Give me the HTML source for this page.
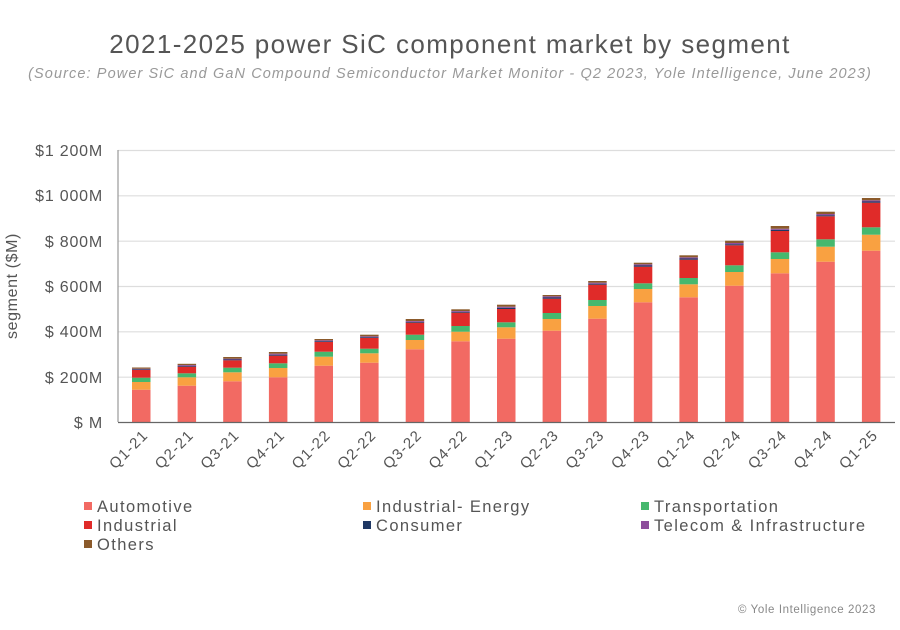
<!DOCTYPE html><html><head><meta charset="utf-8"><style>body{margin:0;background:#fff}svg{display:block;font-family:"Liberation Sans",sans-serif}</style></head><body>
<svg width="900" height="630" viewBox="0 0 900 630" xmlns="http://www.w3.org/2000/svg">
<text x="450" y="53" text-anchor="middle" font-size="26" letter-spacing="1.4" fill="#555">2021-2025 power SiC component market by segment</text>
<text x="450" y="78" text-anchor="middle" font-size="14.5" letter-spacing="1.1" font-style="italic" fill="#999">(Source: Power SiC and GaN Compound Semiconductor Market Monitor - Q2 2023, Yole Intelligence, June 2023)</text>
<g stroke="#ddd" stroke-width="1.2"><line x1="118" x2="895" y1="150.5" y2="150.5"/><line x1="118" x2="895" y1="195.8" y2="195.8"/><line x1="118" x2="895" y1="241.2" y2="241.2"/><line x1="118" x2="895" y1="286.5" y2="286.5"/><line x1="118" x2="895" y1="331.8" y2="331.8"/><line x1="118" x2="895" y1="377.2" y2="377.2"/></g>
<line x1="118" x2="118" y1="150" y2="422" stroke="#999" stroke-width="1.2"/>
<g font-size="16" letter-spacing="0.8" fill="#555" text-anchor="end"><text x="103" y="156">$1 200M</text><text x="103" y="201">$1 000M</text><text x="103" y="247">$ 800M</text><text x="103" y="292">$ 600M</text><text x="103" y="337">$ 400M</text><text x="103" y="383">$ 200M</text><text x="103" y="428">$ M</text></g>
<text transform="translate(17,286) rotate(-90)" text-anchor="middle" font-size="16" letter-spacing="0.6" fill="#555">segment ($M)</text>
<g id="bars">
<g transform="translate(132,0)"><rect y="389.7" height="32.3" width="18.5" fill="#f26a63"/><rect y="382" height="7.7" width="18.5" fill="#f9a141"/><rect y="377.7" height="4.3" width="18.5" fill="#46b86e"/><rect y="370" height="7.7" width="18.5" fill="#e02b29"/><rect y="369.3" height="0.7" width="18.5" fill="#1f3864"/><rect y="368.7" height="0.6" width="18.5" fill="#8e4e9c"/><rect y="367.5" height="1.2" width="18.5" fill="#8b5a2b"/></g>
<g transform="translate(177.6,0)"><rect y="385.7" height="36.3" width="18.5" fill="#f26a63"/><rect y="377.3" height="8.4" width="18.5" fill="#f9a141"/><rect y="373.3" height="4" width="18.5" fill="#46b86e"/><rect y="366.7" height="6.6" width="18.5" fill="#e02b29"/><rect y="365.8" height="0.9" width="18.5" fill="#1f3864"/><rect y="365" height="0.8" width="18.5" fill="#8e4e9c"/><rect y="363.8" height="1.2" width="18.5" fill="#8b5a2b"/></g>
<g transform="translate(223.2,0)"><rect y="381.3" height="40.7" width="18.5" fill="#f26a63"/><rect y="372.3" height="9" width="18.5" fill="#f9a141"/><rect y="367.7" height="4.6" width="18.5" fill="#46b86e"/><rect y="360.3" height="7.4" width="18.5" fill="#e02b29"/><rect y="359.5" height="0.8" width="18.5" fill="#1f3864"/><rect y="358.7" height="0.8" width="18.5" fill="#8e4e9c"/><rect y="357" height="1.7" width="18.5" fill="#8b5a2b"/></g>
<g transform="translate(268.9,0)"><rect y="377.3" height="44.7" width="18.5" fill="#f26a63"/><rect y="368" height="9.3" width="18.5" fill="#f9a141"/><rect y="363.3" height="4.7" width="18.5" fill="#46b86e"/><rect y="355.7" height="7.6" width="18.5" fill="#e02b29"/><rect y="354.7" height="1" width="18.5" fill="#1f3864"/><rect y="353.7" height="1" width="18.5" fill="#8e4e9c"/><rect y="352" height="1.7" width="18.5" fill="#8b5a2b"/></g>
<g transform="translate(314.5,0)"><rect y="365.7" height="56.3" width="18.5" fill="#f26a63"/><rect y="356.7" height="9" width="18.5" fill="#f9a141"/><rect y="351.7" height="5" width="18.5" fill="#46b86e"/><rect y="342" height="9.7" width="18.5" fill="#e02b29"/><rect y="341.2" height="0.8" width="18.5" fill="#1f3864"/><rect y="340.3" height="0.9" width="18.5" fill="#8e4e9c"/><rect y="339" height="1.3" width="18.5" fill="#8b5a2b"/></g>
<g transform="translate(360.1,0)"><rect y="362.7" height="59.3" width="18.5" fill="#f26a63"/><rect y="353.3" height="9.4" width="18.5" fill="#f9a141"/><rect y="348.7" height="4.6" width="18.5" fill="#46b86e"/><rect y="338" height="10.7" width="18.5" fill="#e02b29"/><rect y="337.2" height="0.8" width="18.5" fill="#1f3864"/><rect y="336.3" height="0.9" width="18.5" fill="#8e4e9c"/><rect y="334.7" height="1.6" width="18.5" fill="#8b5a2b"/></g>
<g transform="translate(405.7,0)"><rect y="349.3" height="72.7" width="18.5" fill="#f26a63"/><rect y="340" height="9.3" width="18.5" fill="#f9a141"/><rect y="334.7" height="5.3" width="18.5" fill="#46b86e"/><rect y="322.7" height="12" width="18.5" fill="#e02b29"/><rect y="321.8" height="0.9" width="18.5" fill="#1f3864"/><rect y="321" height="0.8" width="18.5" fill="#8e4e9c"/><rect y="319" height="2" width="18.5" fill="#8b5a2b"/></g>
<g transform="translate(451.3,0)"><rect y="341.3" height="80.7" width="18.5" fill="#f26a63"/><rect y="331.7" height="9.6" width="18.5" fill="#f9a141"/><rect y="326" height="5.7" width="18.5" fill="#46b86e"/><rect y="312.7" height="13.3" width="18.5" fill="#e02b29"/><rect y="311.8" height="0.9" width="18.5" fill="#1f3864"/><rect y="311" height="0.8" width="18.5" fill="#8e4e9c"/><rect y="309.3" height="1.7" width="18.5" fill="#8b5a2b"/></g>
<g transform="translate(497,0)"><rect y="338.7" height="83.3" width="18.5" fill="#f26a63"/><rect y="327.3" height="11.4" width="18.5" fill="#f9a141"/><rect y="322.3" height="5" width="18.5" fill="#46b86e"/><rect y="309" height="13.3" width="18.5" fill="#e02b29"/><rect y="307.8" height="1.2" width="18.5" fill="#1f3864"/><rect y="306.7" height="1.1" width="18.5" fill="#8e4e9c"/><rect y="304.7" height="2" width="18.5" fill="#8b5a2b"/></g>
<g transform="translate(542.6,0)"><rect y="330.7" height="91.3" width="18.5" fill="#f26a63"/><rect y="319" height="11.7" width="18.5" fill="#f9a141"/><rect y="313" height="6" width="18.5" fill="#46b86e"/><rect y="298.7" height="14.3" width="18.5" fill="#e02b29"/><rect y="297.5" height="1.2" width="18.5" fill="#1f3864"/><rect y="296.3" height="1.2" width="18.5" fill="#8e4e9c"/><rect y="295" height="1.3" width="18.5" fill="#8b5a2b"/></g>
<g transform="translate(588.2,0)"><rect y="318.7" height="103.3" width="18.5" fill="#f26a63"/><rect y="306" height="12.7" width="18.5" fill="#f9a141"/><rect y="300" height="6" width="18.5" fill="#46b86e"/><rect y="284.7" height="15.3" width="18.5" fill="#e02b29"/><rect y="283.7" height="1" width="18.5" fill="#1f3864"/><rect y="282.7" height="1" width="18.5" fill="#8e4e9c"/><rect y="281" height="1.7" width="18.5" fill="#8b5a2b"/></g>
<g transform="translate(633.8,0)"><rect y="302.3" height="119.7" width="18.5" fill="#f26a63"/><rect y="289" height="13.3" width="18.5" fill="#f9a141"/><rect y="283.3" height="5.7" width="18.5" fill="#46b86e"/><rect y="266.7" height="16.6" width="18.5" fill="#e02b29"/><rect y="265.5" height="1.2" width="18.5" fill="#1f3864"/><rect y="264.3" height="1.2" width="18.5" fill="#8e4e9c"/><rect y="262.7" height="1.6" width="18.5" fill="#8b5a2b"/></g>
<g transform="translate(679.4,0)"><rect y="297.3" height="124.7" width="18.5" fill="#f26a63"/><rect y="284.3" height="13" width="18.5" fill="#f9a141"/><rect y="278" height="6.3" width="18.5" fill="#46b86e"/><rect y="259.7" height="18.3" width="18.5" fill="#e02b29"/><rect y="258.5" height="1.2" width="18.5" fill="#1f3864"/><rect y="257.3" height="1.2" width="18.5" fill="#8e4e9c"/><rect y="255.3" height="2" width="18.5" fill="#8b5a2b"/></g>
<g transform="translate(725.1,0)"><rect y="285.7" height="136.3" width="18.5" fill="#f26a63"/><rect y="272" height="13.7" width="18.5" fill="#f9a141"/><rect y="265.3" height="6.7" width="18.5" fill="#46b86e"/><rect y="245.3" height="20" width="18.5" fill="#e02b29"/><rect y="244.2" height="1.1" width="18.5" fill="#1f3864"/><rect y="243" height="1.2" width="18.5" fill="#8e4e9c"/><rect y="240.7" height="2.3" width="18.5" fill="#8b5a2b"/></g>
<g transform="translate(770.7,0)"><rect y="273.3" height="148.7" width="18.5" fill="#f26a63"/><rect y="259" height="14.3" width="18.5" fill="#f9a141"/><rect y="252.3" height="6.7" width="18.5" fill="#46b86e"/><rect y="231" height="21.3" width="18.5" fill="#e02b29"/><rect y="229.8" height="1.2" width="18.5" fill="#1f3864"/><rect y="228.7" height="1.1" width="18.5" fill="#8e4e9c"/><rect y="226" height="2.7" width="18.5" fill="#8b5a2b"/></g>
<g transform="translate(816.3,0)"><rect y="261.7" height="160.3" width="18.5" fill="#f26a63"/><rect y="246.7" height="15" width="18.5" fill="#f9a141"/><rect y="239.3" height="7.4" width="18.5" fill="#46b86e"/><rect y="216.3" height="23" width="18.5" fill="#e02b29"/><rect y="215.2" height="1.1" width="18.5" fill="#1f3864"/><rect y="214" height="1.2" width="18.5" fill="#8e4e9c"/><rect y="211.7" height="2.3" width="18.5" fill="#8b5a2b"/></g>
<g transform="translate(861.9,0)"><rect y="250.7" height="171.3" width="18.5" fill="#f26a63"/><rect y="234.7" height="16" width="18.5" fill="#f9a141"/><rect y="227.3" height="7.4" width="18.5" fill="#46b86e"/><rect y="202.7" height="24.6" width="18.5" fill="#e02b29"/><rect y="201.5" height="1.2" width="18.5" fill="#1f3864"/><rect y="200.3" height="1.2" width="18.5" fill="#8e4e9c"/><rect y="198" height="2.3" width="18.5" fill="#8b5a2b"/></g>
</g>
<line x1="118" x2="895" y1="422.5" y2="422.5" stroke="#666" stroke-width="1.3"/>
<g font-size="15" letter-spacing="1.2" fill="#555" text-anchor="end">
<text transform="translate(149,436) rotate(-45)">Q1-21</text>
<text transform="translate(194.6,436) rotate(-45)">Q2-21</text>
<text transform="translate(240.2,436) rotate(-45)">Q3-21</text>
<text transform="translate(285.9,436) rotate(-45)">Q4-21</text>
<text transform="translate(331.5,436) rotate(-45)">Q1-22</text>
<text transform="translate(377.1,436) rotate(-45)">Q2-22</text>
<text transform="translate(422.7,436) rotate(-45)">Q3-22</text>
<text transform="translate(468.3,436) rotate(-45)">Q4-22</text>
<text transform="translate(514,436) rotate(-45)">Q1-23</text>
<text transform="translate(559.6,436) rotate(-45)">Q2-23</text>
<text transform="translate(605.2,436) rotate(-45)">Q3-23</text>
<text transform="translate(650.8,436) rotate(-45)">Q4-23</text>
<text transform="translate(696.4,436) rotate(-45)">Q1-24</text>
<text transform="translate(742.1,436) rotate(-45)">Q2-24</text>
<text transform="translate(787.7,436) rotate(-45)">Q3-24</text>
<text transform="translate(833.3,436) rotate(-45)">Q4-24</text>
<text transform="translate(878.9,436) rotate(-45)">Q1-25</text>
</g>
<g font-size="16.5" letter-spacing="1.4" fill="#555">
<rect x="84" y="502" width="8" height="8" fill="#f26a63"/><text x="97" y="512">Automotive</text>
<rect x="363" y="502" width="8" height="8" fill="#f9a141"/><text x="376" y="512">Industrial- Energy</text>
<rect x="641" y="502" width="8" height="8" fill="#46b86e"/><text x="654" y="512">Transportation</text>
<rect x="84" y="521" width="8" height="8" fill="#e02b29"/><text x="97" y="531">Industrial</text>
<rect x="363" y="521" width="8" height="8" fill="#1f3864"/><text x="376" y="531">Consumer</text>
<rect x="641" y="521" width="8" height="8" fill="#8e4e9c"/><text x="654" y="531">Telecom &amp; Infrastructure</text>
<rect x="84" y="540" width="8" height="8" fill="#8b5a2b"/><text x="97" y="550">Others</text>
</g>
<text x="876" y="613" text-anchor="end" font-size="11.5" letter-spacing="0.6" fill="#888">© Yole Intelligence 2023</text>
</svg></body></html>
